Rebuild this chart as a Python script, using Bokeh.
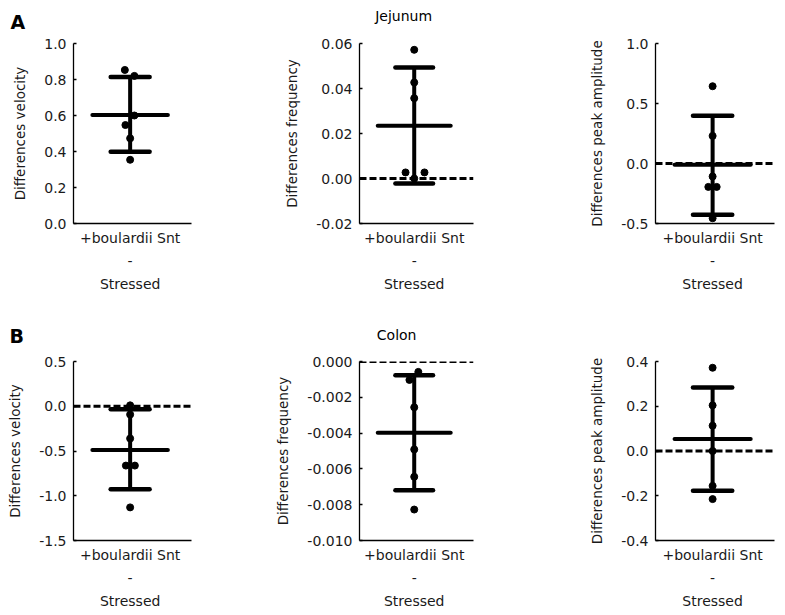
from bokeh.plotting import figure
from bokeh.models import Range1d, FixedTicker, PrintfTickFormatter, Span, LinearAxis
from bokeh.layouts import gridplot
from bokeh.embed import file_html
from bokeh.resources import INLINE

FONT = "DejaVu Sans"
GROUP_LABEL = "+boulardii Snt\n-\nStressed"
GROUP_X = 0.48          # category position on the x axis
MEAN_HALF = 0.32        # half width of the mean bar
CAP_HALF = 0.165        # half width of SD caps

# ---------------- Jejunum (A) ----------------
jej_vel = [0.853, 0.82, 0.60, 0.547, 0.473, 0.354]
jej_vel_jit = [-0.045, 0.036, 0.036, -0.040, 0.0, 0.0]
jej_vel_stats = [0.603, 0.398, 0.814]          # mean, mean-SD, mean+SD
jej_vel_ticks = [0.0, 0.2, 0.4, 0.6, 0.8, 1.0]

jej_freq = [0.0572, 0.0427, 0.0357, 0.0027, 0.0027, 0.0]
jej_freq_jit = [0.0, 0.0, 0.0, -0.076, 0.09, 0.0]
jej_freq_stats = [0.0234, -0.0022, 0.0493]
jej_freq_ticks = [-0.02, 0.0, 0.02, 0.04, 0.06]

jej_amp = [0.644, 0.23, -0.108, -0.195, -0.195, -0.456]
jej_amp_jit = [0.0, 0.0, 0.0, -0.036, 0.034, 0.0]
jej_amp_stats = [-0.01, -0.428, 0.397]
jej_amp_ticks = [-0.5, 0.0, 0.5, 1.0]

# ---------------- Colon (B) ----------------
col_vel = [0.01, -0.092, -0.36, -0.663, -0.663, -1.13]
col_vel_jit = [0.0, 0.0, 0.0, -0.036, 0.04, 0.0]
col_vel_stats = [-0.489, -0.926, -0.033]
col_vel_ticks = [-1.5, -1.0, -0.5, 0.0, 0.5]

col_freq = [-0.00058, -0.00103, -0.00256, -0.00491, -0.00644, -0.00827]
col_freq_jit = [0.036, -0.042, 0.0, 0.0, 0.0, 0.0]
col_freq_stats = [-0.00398, -0.00719, -0.00077]
col_freq_ticks = [-0.010, -0.008, -0.006, -0.004, -0.002, 0.0]

col_amp = [0.372, 0.204, 0.113, 0.0, -0.156, -0.215]
col_amp_jit = [0.0, 0.0, 0.0, 0.0, 0.0, 0.0]
col_amp_stats = [0.054, -0.178, 0.284]
col_amp_ticks = [-0.4, -0.2, 0.0, 0.2, 0.4]


def panel(vals, jit, stats, ticks, fmt, ylabel, zero, w, h, bl, br, bt, bb):
    p = figure(width=w, height=h, output_backend="svg", toolbar_location=None,
               x_range=Range1d(0, 1), y_range=Range1d(ticks[0], ticks[-1]),
               min_border_left=bl, min_border_right=br,
               min_border_top=bt, min_border_bottom=bb)
    p.outline_line_color = None
    p.grid.visible = False
    p.background_fill_color = "white"
    p.border_fill_color = "white"

    mean, low, high = stats
    xs = [GROUP_X + j for j in jit]
    p.segment(x0=[GROUP_X], y0=[low], x1=[GROUP_X], y1=[high],
              line_width=4, line_color="black")
    p.segment(x0=[GROUP_X - CAP_HALF] * 2, y0=[low, high],
              x1=[GROUP_X + CAP_HALF] * 2, y1=[low, high],
              line_width=4.5, line_color="black", line_cap="round")
    p.segment(x0=[GROUP_X - MEAN_HALF], y0=[mean], x1=[GROUP_X + MEAN_HALF], y1=[mean],
              line_width=4, line_color="black", line_cap="round")
    p.scatter(xs, vals, size=7, color="black")
    if zero:
        p.add_layout(Span(location=0, dimension="width", line_dash="7 3",
                          line_width=3, line_color="black"))

    xa = p.xaxis[0]
    xa.ticker = FixedTicker(ticks=[GROUP_X])
    xa.major_label_overrides = {GROUP_X: GROUP_LABEL}
    xa.major_tick_line_color = None
    xa.minor_tick_line_color = None
    xa.major_label_standoff = 0
    xa.major_label_text_font = FONT
    xa.major_label_text_font_size = "14px"
    xa.major_label_text_color = "#1a1a1a"
    xa.major_label_text_line_height = 1.45
    xa.axis_line_width = 1.3

    ya = p.yaxis[0]
    ya.ticker = FixedTicker(ticks=ticks)
    ya.formatter = PrintfTickFormatter(format=fmt)
    ya.major_tick_in = 3
    ya.major_tick_out = 0
    ya.major_tick_line_width = 1.3
    ya.minor_tick_line_color = None
    ya.axis_line_width = 1.3
    ya.major_label_standoff = 7
    ya.major_label_text_font = FONT
    ya.major_label_text_font_size = "14px"
    ya.major_label_text_color = "#1a1a1a"
    ya.axis_label = ylabel
    ya.axis_label_text_font = FONT
    ya.axis_label_text_font_size = "13.5px"
    ya.axis_label_text_font_style = "normal"
    ya.axis_label_text_color = "#1a1a1a"
    ya.axis_label_standoff = 13
    return p


def panel_letter(p, text, offset, standoff):
    t = p.title
    t.text = text
    t.align = "left"
    t.vertical_align = "top"
    t.offset = offset
    t.standoff = standoff
    t.text_font = FONT
    t.text_font_size = "19px"
    t.text_font_style = "bold"
    t.text_color = "black"


def section_title(p, text, where, standoff):
    # an invisible axis above the frame whose single tick label is the section name
    ax = LinearAxis(ticker=FixedTicker(ticks=[where]),
                    major_label_overrides={where: text},
                    axis_line_color=None, major_tick_line_color=None,
                    minor_tick_line_color=None,
                    major_tick_in=0, major_tick_out=0,
                    major_label_standoff=standoff,
                    major_label_text_font=FONT, major_label_text_font_size="14px",
                    major_label_text_color="black")
    p.add_layout(ax, "above")


HA, HB = 310, 305
a1 = panel(jej_vel, jej_vel_jit, jej_vel_stats, jej_vel_ticks, "%.1f",
           "Differences velocity", False, 270, HA, 73, 79, 43, 87)
a2 = panel(jej_freq, jej_freq_jit, jej_freq_stats, jej_freq_ticks, "%.2f",
           "Differences frequency", True, 290, HA, 84, 87, 43, 87)
a3 = panel(jej_amp, jej_amp_jit, jej_amp_stats, jej_amp_ticks, "%.1f",
           "Differences peak amplitude", True, 225, HA, 95, 11, 43, 87)

b1 = panel(col_vel, col_vel_jit, col_vel_stats, col_vel_ticks, "%.1f",
           "Differences velocity", True, 270, HB, 73, 79, 51, 75)
b2 = panel(col_freq, col_freq_jit, col_freq_stats, col_freq_ticks, "%.3f",
           "Differences frequency", True, 290, HB, 89, 83, 51, 75)
b3 = panel(col_amp, col_amp_jit, col_amp_stats, col_amp_ticks, "%.1f",
           "Differences peak amplitude", True, 225, HB, 95, 11, 51, 75)

panel_letter(a1, "A", -63, 18)
panel_letter(b1, "B", -64, 26)
section_title(a2, "Jejunum", 0.387, 20)
section_title(b2, "Colon", 0.326, 19)

grid = gridplot([[a1, a2, a3], [b1, b2, b3]], toolbar_location=None)

open("out.html", "w").write(file_html(grid, INLINE))
